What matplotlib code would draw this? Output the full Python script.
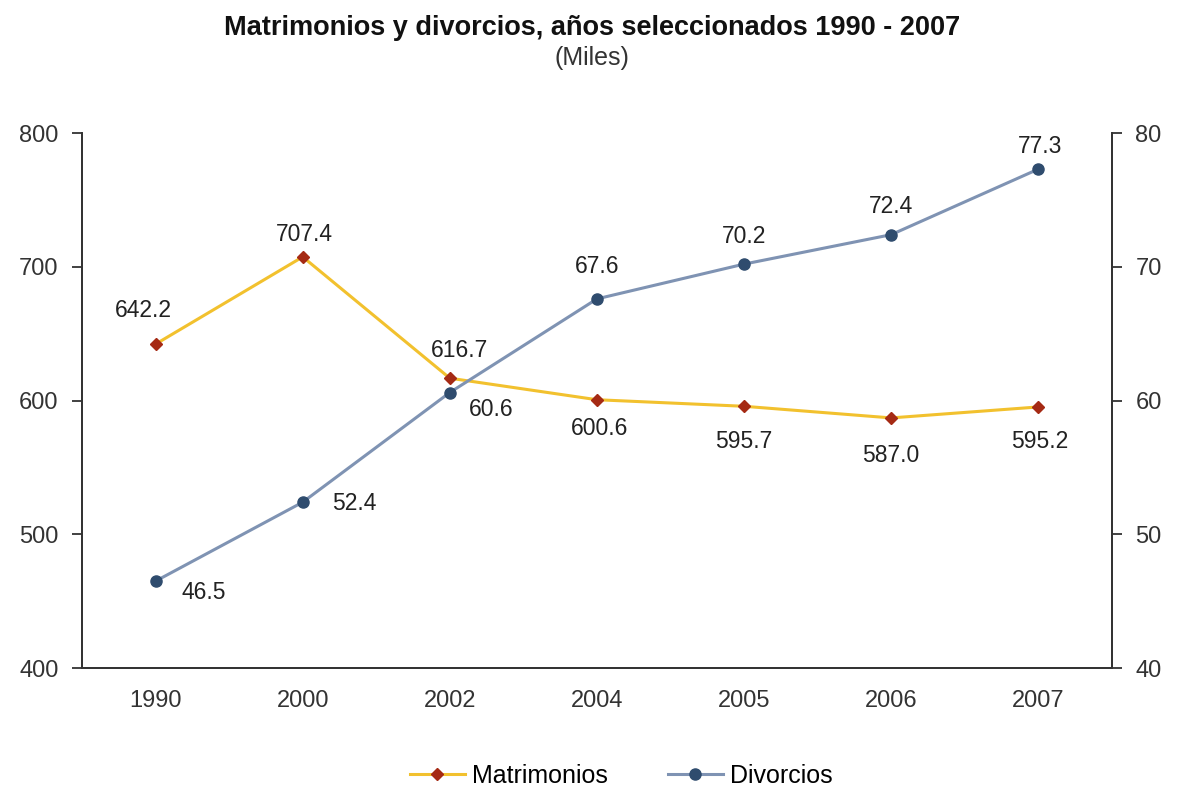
import matplotlib.pyplot as plt

plt.rcParams['font.family'] = ['Liberation Sans', 'DejaVu Sans']

years = ['1990', '2000', '2002', '2004', '2005', '2006', '2007']
matrimonios = [642.2, 707.4, 616.7, 600.6, 595.7, 587.0, 595.2]
divorcios = [46.5, 52.4, 60.6, 67.6, 70.2, 72.4, 77.3]

# label offsets in points (dx, dy) for each series
mat_off = [(-9, 24), (1, 16), (7, 20), (2, -21), (0, -25), (0, -27), (1, -25)]
div_off = [(35, -8), (37, -1), (30, -12), (0, 23), (0, 20), (0, 20), (1, 16)]

fig = plt.figure(figsize=(11.79, 7.90), dpi=100)
ax = fig.add_axes([0.0696, 0.1544, 0.8734, 0.6772])
ax2 = ax.twinx()

x = range(len(years))
l1, = ax.plot(x, matrimonios, color='#F2C12E', lw=2.2, marker='D', ms=6,
              mfc='#A52A14', mec='#A52A14', label='Matrimonios', zorder=3)
l2, = ax2.plot(x, divorcios, color='#7F93B3', lw=2.2, marker='o', ms=8,
               mfc='#2F4C6E', mec='#2F4C6E', label='Divorcios', zorder=3)

for i, v in enumerate(matrimonios):
    ax.annotate(f'{v:.1f}', (i, v), xytext=mat_off[i], textcoords='offset points',
                ha='center', va='center', fontsize=16.5, color='#222222')
for i, v in enumerate(divorcios):
    ax2.annotate(f'{v:.1f}', (i, v), xytext=div_off[i], textcoords='offset points',
                 ha='center', va='center', fontsize=16.5, color='#222222')

ax.set_xlim(-0.5, 6.5)
ax.set_ylim(400, 800)
ax2.set_ylim(40, 80)
ax.set_yticks(range(400, 801, 100))
ax2.set_yticks(range(40, 81, 10))
ax.set_xticks(list(x))
ax.set_xticklabels(years)

for a in (ax, ax2):
    a.spines['top'].set_visible(False)
    for s in ('left', 'right', 'bottom'):
        a.spines[s].set_color('#333333')
        a.spines[s].set_linewidth(1.3)
    a.tick_params(axis='y', labelsize=17, colors='#333333', length=7, width=1.3, pad=10)
ax.tick_params(axis='x', length=0, labelsize=17, labelcolor='#333333', pad=16)

fig.text(0.502, 0.965, 'Matrimonios y divorcios, años seleccionados 1990 - 2007',
         ha='center', va='center', fontsize=19.5, fontweight='bold', color='#111111')
fig.text(0.502, 0.927, '(Miles)', ha='center', va='center', fontsize=18, color='#333333')

fig.legend(handles=[l1, l2], loc='center', bbox_to_anchor=(0.527, 0.018), ncol=2,
           frameon=False, fontsize=18, handlelength=2.2, handletextpad=0.3,
           columnspacing=2.4)

fig.savefig('out.png', dpi=100)
